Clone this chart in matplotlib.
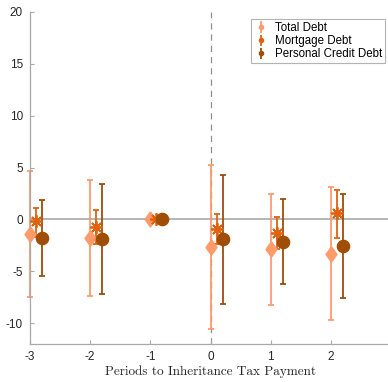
import numpy as np
import matplotlib.pyplot as plt

periods = np.array([-3, -2, -1, 0, 1, 2])

total = [-1.44, -1.80, 0.0, -2.63, -2.88, -3.30]
total_hi = [4.65, 3.85, 0.0, 5.29, 2.47, 3.10]
total_lo = [-7.47, -7.37, 0.0, -10.58, -8.20, -9.70]

mortgage = [-0.19, -0.74, 0.0, -0.90, -1.28, 0.58]
mortgage_hi = [1.12, 0.87, 0.0, 0.55, 0.23, 2.82]
mortgage_lo = [-1.67, -2.40, 0.0, -2.40, -2.88, -1.80]

credit = [-1.76, -1.86, 0.0, -1.92, -2.15, -2.56]
credit_hi = [1.92, 3.46, 0.0, 4.30, 2.00, 2.47]
credit_lo = [-5.45, -7.15, 0.0, -8.10, -6.25, -7.56]

labels = ["Total Debt", "Mortgage Debt", "Personal Credit Debt"]
colors = ["#FF9A6A", "#E0620E", "#A04D05"]
diamond = [(0, 1), (0.72, 0), (0, -1), (-0.72, 0), (0, 1)]
markers = [diamond, (8, 2, 0), "o"]
sizes = [10.5, 9, 8.5]
offsets = [0.0, 0.1, 0.2]

plt.rcParams["font.family"] = ["Liberation Sans", "DejaVu Sans"]

fig = plt.figure(figsize=(3.88, 3.82), dpi=100)
ax = fig.add_axes([30 / 388, 38 / 382, 361 / 388, 332 / 382])

ax.axhline(0, color="#b0b0b0", lw=1.3, zorder=1)
ax.axvline(0, color="#909090", lw=0.9, ls=(0, (5, 4)), zorder=1)

series = [(total, total_hi, total_lo), (mortgage, mortgage_hi, mortgage_lo),
          (credit, credit_hi, credit_lo)]
handles = []
for (est, hi, lo), lab, c, m, ms, off in zip(series, labels, colors, markers, sizes, offsets):
    est = np.array(est)
    yerr = [est - np.array(lo), np.array(hi) - est]
    eb = ax.errorbar(periods + off, est, yerr=yerr, fmt="none", ecolor=c,
                     elinewidth=1.3, capsize=2.2, capthick=1.3, zorder=2)
    for art in eb.lines[1] + eb.lines[2]:
        art.set_clip_on(False)
    ax.plot(periods + off, est, ls="none", marker=m, color=c, mec=c,
            ms=ms, mew=1.3, zorder=3, clip_on=False)
    hl = ax.errorbar([], [], yerr=[], fmt="o", color=c, ms=3,
                     elinewidth=1.3, capsize=2.2, capthick=1.3)
    handles.append(hl)

ax.set_xlim(-3, 3)
ax.set_ylim(-12, 20)
ax.set_xticks([-3, -2, -1, 0, 1, 2])
ax.set_yticks([-10, -5, 0, 5, 10, 15, 20])
ax.set_xticklabels(["-3", "-2", "-1", "0", "1", "2"])
ax.set_yticklabels(["-10", "-5", "0", "5", "10", "15", "20"])

for s in ["top", "right"]:
    ax.spines[s].set_visible(False)
for s in ["left", "bottom"]:
    ax.spines[s].set_color("#a8a8a8")
    ax.spines[s].set_linewidth(0.9)
ax.tick_params(direction="in", length=3, width=0.8, color="#a8a8a8",
               labelsize=8.5, labelcolor="#262626", pad=5)

ax.set_xlabel("Periods to Inheritance Tax Payment", family="cmr10",
              fontsize=9.5, color="#262626", labelpad=2)

leg = ax.legend(handles, labels, loc="upper right", bbox_to_anchor=(0.99, 0.985),
                fontsize=8.3, frameon=True, fancybox=False, handlelength=1.2,
                handletextpad=0.6, borderpad=0.25, labelspacing=0.1,
                borderaxespad=0.2)
leg.get_frame().set_edgecolor("#a0a0a0")
leg.get_frame().set_linewidth(0.8)

fig.savefig("out.png", dpi=100)
